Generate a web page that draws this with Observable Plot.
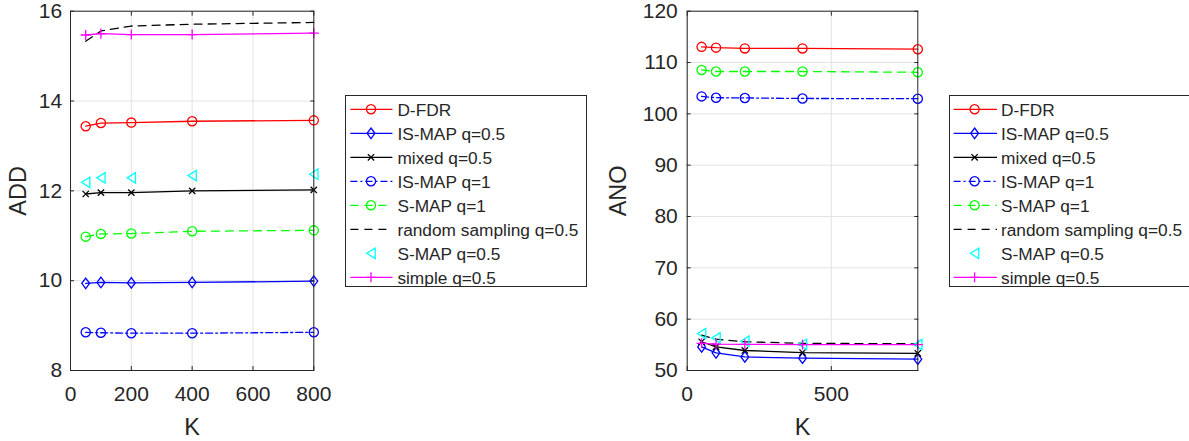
<!DOCTYPE html>
<html>
<head>
<meta charset="utf-8">
<script src="https://cdn.jsdelivr.net/npm/d3@7"></script>
<script src="https://cdn.jsdelivr.net/npm/@observablehq/plot@0.6"></script>
<style>
  html, body { margin: 0; padding: 0; background: #fff; width: 1189px; height: 441px; overflow: hidden; }
  #wrap { position: relative; width: 1189px; height: 441px; font-family: "Liberation Sans", Arial, sans-serif; }
  .abs { position: absolute; top: 0; }
</style>
</head>
<body>
<div id="wrap"></div>
<script>
// ---------------- data ----------------
const K = [50, 100, 200, 400, 800];
const seriesNames = ["D-FDR", "IS-MAP q=0.5", "mixed q=0.5", "IS-MAP q=1", "S-MAP q=1", "random sampling q=0.5", "S-MAP q=0.5", "simple q=0.5"];

// ADD (left panel)
const addDFDR    = [13.44, 13.51, 13.52, 13.55, 13.57];
const addISMAP05 = [9.94, 9.96, 9.95, 9.96, 9.99];
const addMixed   = [11.93, 11.96, 11.96, 12.00, 12.02];
const addISMAP1  = [8.85, 8.84, 8.83, 8.83, 8.85];
const addSMAP1   = [10.98, 11.04, 11.05, 11.10, 11.12];
const addRandom  = [15.33, 15.56, 15.67, 15.71, 15.75];
const addSMAP05  = [12.19, 12.29, 12.29, 12.34, 12.37];
const addSimple  = [15.47, 15.50, 15.48, 15.48, 15.51];

// ANO (right panel)
const anoDFDR    = [113.05, 112.9, 112.75, 112.75, 112.6];
const anoISMAP05 = [54.6, 53.45, 52.65, 52.4, 52.2];
const anoMixed   = [55.6, 54.6, 53.9, 53.5, 53.35];
const anoISMAP1  = [103.4, 103.15, 103.1, 103.0, 102.95];
const anoSMAP1   = [108.55, 108.25, 108.25, 108.25, 108.1];
const anoRandom  = [56.9, 56.1, 55.6, 55.3, 55.2];
const anoSMAP05  = [57.2, 56.35, 55.7, 55.1, 55.05];
const anoSimple  = [55.3, 55.15, 55.1, 55.05, 55.05];

const leftXTicks = [0, 200, 400, 600, 800];
const leftYTicks = [8, 10, 12, 14, 16];
const rightXTicks = [0, 500];
const rightYTicks = [50, 60, 70, 80, 90, 100, 110, 120];

// ---------------- styles ----------------
const circleSym = { draw(ctx, size) { const r = Math.sqrt(size / Math.PI); ctx.moveTo(r, 0); ctx.arc(0, 0, r, 0, 2 * Math.PI); } };
const diamondSym = { draw(ctx, size) { const r = Math.sqrt(size / Math.PI); ctx.moveTo(0, -r * 1.15); ctx.lineTo(r * 0.85, 0); ctx.lineTo(0, r * 1.15); ctx.lineTo(-r * 0.85, 0); ctx.closePath(); } };
const timesSym = { draw(ctx, size) { const r = Math.sqrt(size / Math.PI) * 0.75; ctx.moveTo(-r, -r); ctx.lineTo(r, r); ctx.moveTo(-r, r); ctx.lineTo(r, -r); } };
const plusSym = { draw(ctx, size) { const r = Math.sqrt(size / Math.PI) * 1.1; ctx.moveTo(-r, 0); ctx.lineTo(r, 0); ctx.moveTo(0, -r); ctx.lineTo(0, r); } };
const triLeftSym = { draw(ctx, size) { const r = Math.sqrt(size / Math.PI); ctx.moveTo(-r * 0.8, 0); ctx.lineTo(r * 0.8, -r); ctx.lineTo(r * 0.8, r); ctx.closePath(); } };

const styles = [
  { color: "#ff0000", dash: null, sym: circleSym, r: 4.6, line: true },
  { color: "#0000ff", dash: null, sym: diamondSym, r: 4.6, line: true },
  { color: "#000000", dash: null, sym: timesSym, r: 4.2, line: true },
  { color: "#0000ff", dash: "7,3,2,3", sym: circleSym, r: 4.6, line: true },
  { color: "#00ff00", dash: "8,6", sym: circleSym, r: 4.6, line: true },
  { color: "#000000", dash: "8,6", sym: null, r: 0, line: true },
  { color: "#00ffff", dash: null, sym: triLeftSym, r: 5.2, line: false },
  { color: "#ff00ff", dash: null, sym: plusSym, r: 4.6, line: true }
];

function tidy(arrays) {
  return arrays.map((vals, si) => K.map((k, i) => ({ K: k, v: vals[i], s: si })));
}

const FONT = '"Liberation Sans", Arial, Helvetica, sans-serif';
const INK = "#262626";

function panel({ data, width, mLeft, mRight, xTicks, yTicks, yDomain, yLabel, yPad }) {
  const marks = [
    Plot.gridX(xTicks, { stroke: "#e2e2e2", strokeOpacity: 1, strokeWidth: 1 }),
    Plot.gridY(yTicks, { stroke: "#e2e2e2", strokeOpacity: 1, strokeWidth: 1 }),
  ];
  data.forEach((rows, si) => {
    const st = styles[si];
    if (st.line) marks.push(Plot.line(rows, { x: "K", y: "v", stroke: st.color, strokeWidth: 1.3, strokeDasharray: st.dash }));
  });
  data.forEach((rows, si) => {
    const st = styles[si];
    if (st.sym) marks.push(Plot.dot(rows, { x: "K", y: "v", symbol: st.sym, r: st.r, stroke: st.color, fill: "none", strokeWidth: 1.3 }));
  });
  marks.push(
    Plot.frame({ stroke: INK, strokeWidth: 1 }),
    Plot.axisX(xTicks, { anchor: "bottom", tickSize: -4, tickPadding: 20, label: null, stroke: INK, fill: INK, fontSize: 21 }),
    Plot.axisX(xTicks, { anchor: "top", tickSize: -4, tickFormat: () => "", label: null, stroke: INK }),
    Plot.axisY(yTicks, { anchor: "left", tickSize: -4, tickPadding: yPad, label: null, stroke: INK, fill: INK, fontSize: 21 }),
    Plot.axisY(yTicks, { anchor: "right", tickSize: -4, tickFormat: () => "", label: null, stroke: INK }),
    Plot.text([yLabel], { frameAnchor: "left", dx: -(mLeft - 18), rotate: -90, lineAnchor: "middle", textAnchor: "middle", fill: INK, fontSize: 23.5 }),
    Plot.text(["K"], { frameAnchor: "bottom", dy: 57, lineAnchor: "middle", fill: INK, fontSize: 23.5 })
  );
  return Plot.plot({
    width, height: 441,
    marginLeft: mLeft, marginRight: mRight, marginTop: 10.7, marginBottom: 71,
    style: { fontFamily: FONT, color: INK, background: "transparent", overflow: "visible" },
    x: { domain: [0, 800], ticks: xTicks },
    y: { domain: yDomain, ticks: yTicks },
    marks
  });
}

function legend(left, top, lineX0, lineX1, markX, textX) {
  const w = 242, h = 192;
  const svg = d3.create("svg").attr("width", w).attr("height", h)
    .attr("class", "abs").style("left", left + "px").style("top", top + "px").style("overflow", "visible");
  svg.append("rect").attr("x", 0.5).attr("y", 0.5).attr("width", w - 1).attr("height", h - 1)
    .attr("fill", "#fff").attr("stroke", INK).attr("stroke-width", 1);
  seriesNames.forEach((name, i) => {
    const st = styles[i];
    const y = 14.3 + i * 24;
    const g = svg.append("g");
    if (st.line) g.append("line").attr("x1", lineX0).attr("x2", lineX1).attr("y1", y).attr("y2", y)
      .attr("stroke", st.color).attr("stroke-width", 1.3).attr("stroke-dasharray", st.dash);
    if (st.sym) g.append("path").attr("transform", `translate(${markX},${y})`)
      .attr("d", d3.symbol(st.sym, Math.PI * st.r * st.r)()).attr("fill", "none").attr("stroke", st.color).attr("stroke-width", 1.3);
    g.append("text").attr("x", textX).attr("y", y).attr("dy", "0.36em").attr("fill", INK)
      .style("font-family", FONT).style("font-size", "17.3px").text(name);
  });
  return svg.node();
}

const wrap = document.getElementById("wrap");

const leftPlot = panel({
  data: tidy([addDFDR, addISMAP05, addMixed, addISMAP1, addSMAP1, addRandom, addSMAP05, addSimple]),
  width: 345, mLeft: 70, mRight: 345 - 313.3,
  xTicks: leftXTicks, yTicks: leftYTicks, yDomain: [8, 16], yLabel: "ADD", yPad: 12.3
});
leftPlot.classList.add("abs"); leftPlot.style.left = "0px";
wrap.appendChild(leftPlot);

const rightPlot = panel({
  data: tidy([anoDFDR, anoISMAP05, anoMixed, anoISMAP1, anoSMAP1, anoRandom, anoSMAP05, anoSimple]),
  width: 345, mLeft: 86.7, mRight: 345 - 317.3,
  xTicks: rightXTicks, yTicks: rightYTicks, yDomain: [50, 120], yLabel: "ANO", yPad: 13.4
});
rightPlot.classList.add("abs"); rightPlot.style.left = "600px";
wrap.appendChild(rightPlot);

wrap.appendChild(legend(345.3, 94.7, 5.4, 47.4, 26, 52.4));
wrap.appendChild(legend(948.7, 94.7, 4.6, 48, 25.6, 52));
</script>
</body>
</html>
